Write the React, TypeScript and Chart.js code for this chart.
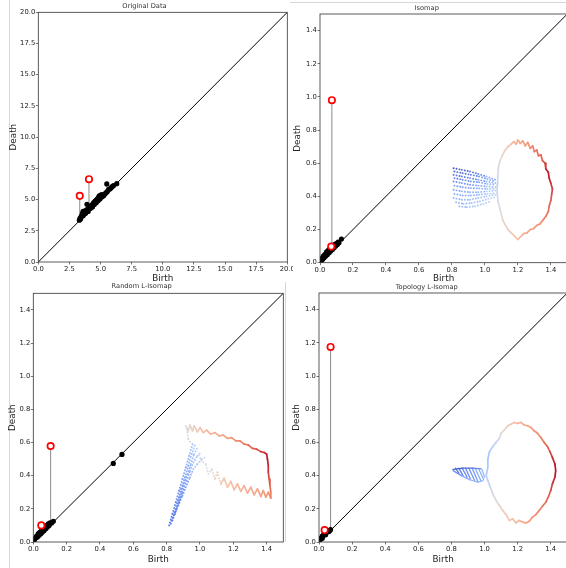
import React, { useEffect, useRef } from "react";
import { Chart, registerables } from "chart.js";
Chart.register(...registerables);

const FONT = '"DejaVu Sans", "Liberation Sans", sans-serif';

// ---------------- texts ----------------
const panelTitles = ["Original Data", "Isomap", "Random L-Isomap", "Topology L-Isomap"];
const xLabel = "Birth";
const yLabel = "Death";

// ---------------- tick values ----------------
const origTicks = [0, 2.5, 5, 7.5, 10, 12.5, 15, 17.5, 20];
const unitTicks = [0, 0.2, 0.4, 0.6, 0.8, 1.0, 1.2, 1.4];
const origMax = 20;
const unitMax = 1.5;

// ---------------- diagonals ----------------
const origDiagonal = [[0, 0], [20, 20]];
const unitDiagonal = [[0, 0], [1.5, 1.5]];

// ---------------- Original Data ----------------
const origBlack = [
  [3.3, 3.35], [3.35, 3.5], [3.4, 3.45], [3.45, 3.65], [3.5, 3.7], [3.55, 3.9], [3.6, 4.05], [3.6, 3.7],
  [3.7, 3.85], [3.75, 4.1], [3.8, 3.9], [3.85, 4.0], [3.9, 4.2], [4.0, 4.15], [4.0, 4.05], [4.1, 4.35],
  [4.2, 4.3], [4.25, 4.5], [4.3, 4.55], [4.35, 4.4], [4.4, 4.65], [4.45, 4.75], [4.5, 4.6], [4.55, 4.85],
  [4.6, 4.9], [4.65, 4.75], [4.7, 5.0], [4.75, 5.05], [4.8, 4.9], [4.85, 5.2], [4.9, 5.3], [4.95, 5.05],
  [5.0, 5.35], [5.05, 5.35], [5.1, 5.2], [5.15, 5.4], [5.2, 5.4], [5.25, 5.3], [5.35, 5.45], [5.45, 5.55],
  [5.55, 5.65], [5.65, 5.8], [5.75, 5.85], [5.85, 5.95], [5.95, 6.05], [6.05, 6.12], [6.3, 6.27],
  [3.91, 4.62], [5.5, 6.25],
];
const origRed = [[3.33, 5.3], [4.07, 6.63]];
const origStems = [[3.33, 5.3], [4.07, 6.63], [5.5, 6.25]];

// ---------------- Isomap ----------------
const isoBlack = [
  [0.005, 0.01], [0.01, 0.025], [0.015, 0.02], [0.02, 0.04], [0.025, 0.03], [0.03, 0.05], [0.035, 0.04],
  [0.04, 0.065], [0.045, 0.05], [0.05, 0.075], [0.055, 0.06], [0.06, 0.085], [0.065, 0.07], [0.07, 0.09],
  [0.075, 0.08], [0.08, 0.1], [0.085, 0.09], [0.09, 0.11], [0.095, 0.1], [0.1, 0.115], [0.105, 0.11],
  [0.11, 0.125], [0.115, 0.12], [0.13, 0.143],
];
const isoRed = [[0.072, 0.98], [0.068, 0.097]];
const isoStems = [[0.072, 0.98]];
const isoLoop = [
  [1.075, 0.47, 0.44], [1.078, 0.52, 0.46], [1.082, 0.57, 0.48], [1.09, 0.61, 0.5], [1.105, 0.645, 0.53],
  [1.12, 0.675, 0.57], [1.14, 0.7, 0.61], [1.16, 0.715, 0.64], [1.175, 0.73, 0.66], [1.19, 0.715, 0.68],
  [1.2, 0.74, 0.69], [1.215, 0.72, 0.71], [1.23, 0.735, 0.72], [1.245, 0.705, 0.74], [1.26, 0.725, 0.75],
  [1.275, 0.69, 0.77], [1.29, 0.705, 0.79], [1.3, 0.67, 0.81], [1.315, 0.68, 0.82], [1.325, 0.645, 0.84],
  [1.34, 0.65, 0.86], [1.35, 0.615, 0.88], [1.365, 0.6, 0.9], [1.37, 0.565, 0.94], [1.385, 0.545, 0.98],
  [1.39, 0.51, 0.96], [1.4, 0.48, 0.94], [1.41, 0.445, 0.92], [1.405, 0.41, 0.9], [1.4, 0.375, 0.88],
  [1.39, 0.34, 0.86], [1.385, 0.31, 0.84], [1.37, 0.28, 0.82], [1.355, 0.26, 0.8], [1.335, 0.235, 0.78],
  [1.315, 0.225, 0.76], [1.295, 0.205, 0.74], [1.275, 0.2, 0.72], [1.255, 0.18, 0.71], [1.235, 0.175, 0.69],
  [1.215, 0.155, 0.67], [1.2, 0.14, 0.65], [1.185, 0.155, 0.63], [1.17, 0.17, 0.61], [1.155, 0.185, 0.59],
  [1.14, 0.2, 0.57], [1.125, 0.225, 0.55], [1.11, 0.255, 0.53], [1.1, 0.29, 0.51], [1.09, 0.33, 0.49],
  [1.08, 0.37, 0.47], [1.075, 0.42, 0.46], [1.075, 0.47, 0.44],
];
const isoFanRows = [
  [[0.81, 0.57, 0.02], [0.86, 0.56, 0.04], [0.91, 0.55, 0.07], [0.96, 0.535, 0.11], [1.01, 0.52, 0.17], [1.065, 0.5, 0.3]],
  [[0.815, 0.55, 0.05], [0.865, 0.54, 0.07], [0.915, 0.53, 0.1], [0.965, 0.52, 0.14], [1.015, 0.505, 0.2], [1.065, 0.49, 0.32]],
  [[0.81, 0.53, 0.08], [0.86, 0.52, 0.1], [0.91, 0.51, 0.13], [0.96, 0.5, 0.16], [1.01, 0.49, 0.22], [1.065, 0.48, 0.34]],
  [[0.815, 0.51, 0.11], [0.865, 0.5, 0.13], [0.915, 0.49, 0.16], [0.965, 0.485, 0.19], [1.015, 0.475, 0.24], [1.065, 0.47, 0.36]],
  [[0.81, 0.49, 0.14], [0.86, 0.48, 0.16], [0.91, 0.47, 0.19], [0.96, 0.465, 0.21], [1.01, 0.46, 0.26], [1.065, 0.455, 0.37]],
  [[0.815, 0.465, 0.17], [0.865, 0.455, 0.19], [0.915, 0.45, 0.21], [0.965, 0.448, 0.24], [1.015, 0.445, 0.28], [1.065, 0.445, 0.38]],
  [[0.81, 0.44, 0.2], [0.86, 0.43, 0.22], [0.91, 0.425, 0.24], [0.96, 0.425, 0.26], [1.01, 0.43, 0.3], [1.065, 0.435, 0.4]],
  [[0.815, 0.415, 0.22], [0.865, 0.405, 0.24], [0.915, 0.405, 0.26], [0.965, 0.41, 0.28], [1.015, 0.415, 0.32], [1.065, 0.42, 0.41]],
  [[0.81, 0.39, 0.24], [0.86, 0.38, 0.26], [0.91, 0.38, 0.28], [0.96, 0.39, 0.3], [1.01, 0.4, 0.34], [1.065, 0.41, 0.42]],
  [[0.825, 0.365, 0.26], [0.87, 0.355, 0.28], [0.92, 0.36, 0.3], [0.97, 0.37, 0.32], [1.02, 0.385, 0.36], [1.065, 0.395, 0.43]],
  [[0.845, 0.34, 0.28], [0.89, 0.335, 0.3], [0.94, 0.34, 0.32], [0.99, 0.355, 0.35], [1.04, 0.37, 0.4]],
];

// ---------------- Random L-Isomap ----------------
const randBlack = [
  [0.005, 0.01], [0.01, 0.02], [0.015, 0.025], [0.02, 0.035], [0.025, 0.03], [0.03, 0.05], [0.035, 0.04],
  [0.04, 0.06], [0.045, 0.05], [0.05, 0.07], [0.055, 0.06], [0.06, 0.08], [0.065, 0.07], [0.07, 0.09],
  [0.075, 0.08], [0.08, 0.1], [0.085, 0.09], [0.09, 0.11], [0.095, 0.1], [0.1, 0.115], [0.11, 0.115],
  [0.12, 0.125], [0.48, 0.474], [0.532, 0.528],
];
const randRed = [[0.104, 0.579], [0.048, 0.1]];
const randStems = [[0.104, 0.579]];
const randBandRows = [
  [[0.815, 0.1, 0.08], [0.835, 0.17, 0.1], [0.855, 0.24, 0.13], [0.875, 0.31, 0.16], [0.895, 0.38, 0.19], [0.915, 0.45, 0.23], [0.935, 0.52, 0.27], [0.955, 0.59, 0.32]],
  [[0.825, 0.11, 0.1], [0.848, 0.18, 0.12], [0.868, 0.25, 0.15], [0.888, 0.32, 0.18], [0.91, 0.39, 0.21], [0.93, 0.46, 0.25], [0.95, 0.53, 0.29], [0.97, 0.585, 0.34]],
  [[0.835, 0.13, 0.11], [0.86, 0.2, 0.13], [0.88, 0.27, 0.16], [0.9, 0.34, 0.19], [0.925, 0.41, 0.23], [0.945, 0.47, 0.27], [0.965, 0.53, 0.31], [0.985, 0.57, 0.36]],
  [[0.85, 0.17, 0.13], [0.875, 0.24, 0.15], [0.895, 0.3, 0.18], [0.92, 0.37, 0.21], [0.94, 0.43, 0.25], [0.96, 0.48, 0.29], [0.985, 0.52, 0.34], [1.005, 0.54, 0.38]],
  [[0.87, 0.22, 0.15], [0.895, 0.28, 0.18], [0.915, 0.33, 0.2], [0.94, 0.39, 0.24], [0.96, 0.44, 0.28], [0.985, 0.47, 0.32], [1.01, 0.5, 0.38], [1.03, 0.51, 0.42]],
  [[0.915, 0.7, 0.5], [0.925, 0.66, 0.49], [0.93, 0.62, 0.47], [0.95, 0.59, 0.44]],
  [[1.125, 0.35, 0.6], [1.105, 0.42, 0.57], [1.09, 0.38, 0.55], [1.07, 0.44, 0.53], [1.05, 0.41, 0.51], [1.035, 0.47, 0.49], [1.01, 0.49, 0.47], [0.99, 0.53, 0.45]],
];
const randTop = [
  [0.915, 0.7, 0.5], [0.93, 0.67, 0.52], [0.94, 0.705, 0.54], [0.955, 0.67, 0.56], [0.965, 0.7, 0.58],
  [0.985, 0.665, 0.6], [1.0, 0.69, 0.62], [1.02, 0.66, 0.64], [1.04, 0.675, 0.66], [1.065, 0.65, 0.68],
  [1.09, 0.66, 0.69], [1.115, 0.64, 0.7], [1.14, 0.645, 0.72], [1.165, 0.625, 0.73], [1.19, 0.63, 0.75],
  [1.215, 0.61, 0.77], [1.24, 0.61, 0.79], [1.265, 0.59, 0.81], [1.29, 0.585, 0.83], [1.315, 0.565, 0.86],
  [1.34, 0.56, 0.88], [1.365, 0.545, 0.91], [1.385, 0.54, 0.94], [1.4, 0.53, 0.97], [1.405, 0.5, 0.98],
  [1.41, 0.46, 0.96], [1.41, 0.42, 0.93], [1.415, 0.38, 0.9], [1.42, 0.34, 0.86], [1.425, 0.3, 0.82],
  [1.425, 0.265, 0.78],
];
const randBottom = [
  [1.425, 0.265, 0.78], [1.41, 0.3, 0.76], [1.395, 0.27, 0.75], [1.38, 0.31, 0.74], [1.365, 0.275, 0.73],
  [1.345, 0.32, 0.72], [1.325, 0.285, 0.71], [1.305, 0.33, 0.7], [1.285, 0.295, 0.69], [1.265, 0.34, 0.68],
  [1.245, 0.305, 0.67], [1.225, 0.35, 0.66], [1.205, 0.315, 0.65], [1.185, 0.365, 0.64], [1.165, 0.33, 0.63],
  [1.145, 0.385, 0.62], [1.125, 0.35, 0.6],
];

// ---------------- Topology L-Isomap ----------------
const topoBlack = [
  [0.005, 0.01], [0.01, 0.02], [0.015, 0.025], [0.02, 0.035], [0.025, 0.04], [0.03, 0.045], [0.035, 0.05],
  [0.04, 0.055], [0.045, 0.058], [0.05, 0.062], [0.055, 0.065], [0.06, 0.068], [0.065, 0.07], [0.07, 0.075],
  [0.02, 0.022], [0.04, 0.043], [0.06, 0.063],
];
const topoRed = [[0.07, 1.175], [0.034, 0.072]];
const topoStems = [[0.07, 1.175]];
const topoFanLines = [
  [[0.81, 0.437, 0.03], [0.87, 0.445, 0.06], [0.93, 0.445, 0.1], [0.98, 0.44, 0.18]],
  [[0.81, 0.43, 0.13], [0.86, 0.4, 0.2], [0.91, 0.375, 0.25], [0.96, 0.36, 0.28], [0.99, 0.37, 0.31]],
  [[0.825, 0.445, 0.05], [0.845, 0.415, 0.14]],
  [[0.845, 0.445, 0.06], [0.87, 0.4, 0.18]],
  [[0.865, 0.445, 0.08], [0.895, 0.39, 0.2]],
  [[0.885, 0.445, 0.1], [0.915, 0.38, 0.22]],
  [[0.905, 0.445, 0.12], [0.94, 0.37, 0.24]],
  [[0.925, 0.445, 0.14], [0.96, 0.365, 0.26]],
  [[0.945, 0.44, 0.18], [0.98, 0.365, 0.28]],
  [[0.965, 0.44, 0.21], [0.995, 0.375, 0.3]],
  [[0.985, 0.435, 0.25], [1.0, 0.39, 0.32]],
];
const topoLoop = [
  [1.01, 0.4, 0.36], [1.02, 0.45, 0.34], [1.02, 0.5, 0.33], [1.03, 0.545, 0.35], [1.05, 0.575, 0.38],
  [1.07, 0.6, 0.42], [1.09, 0.625, 0.46], [1.1, 0.655, 0.5], [1.12, 0.675, 0.54], [1.14, 0.7, 0.58],
  [1.16, 0.71, 0.61], [1.18, 0.72, 0.63], [1.2, 0.715, 0.65], [1.22, 0.72, 0.67], [1.24, 0.705, 0.69],
  [1.26, 0.7, 0.71], [1.28, 0.69, 0.73], [1.3, 0.67, 0.75], [1.32, 0.655, 0.77], [1.34, 0.63, 0.8],
  [1.36, 0.6, 0.83], [1.38, 0.575, 0.86], [1.395, 0.545, 0.89], [1.41, 0.51, 0.93], [1.425, 0.47, 0.97],
  [1.43, 0.43, 0.99], [1.425, 0.39, 0.97], [1.41, 0.35, 0.93], [1.4, 0.31, 0.9], [1.385, 0.27, 0.87],
  [1.37, 0.24, 0.85], [1.35, 0.215, 0.82], [1.33, 0.19, 0.8], [1.31, 0.165, 0.78], [1.29, 0.15, 0.76],
  [1.27, 0.125, 0.74], [1.25, 0.115, 0.72], [1.23, 0.12, 0.7], [1.21, 0.13, 0.68], [1.19, 0.115, 0.66],
  [1.17, 0.14, 0.64], [1.15, 0.13, 0.62], [1.13, 0.165, 0.6], [1.11, 0.19, 0.58], [1.09, 0.22, 0.55],
  [1.07, 0.25, 0.52], [1.05, 0.29, 0.48], [1.035, 0.33, 0.44], [1.02, 0.37, 0.4], [1.01, 0.4, 0.36],
];

// ---------------- colour map (coolwarm) ----------------
const CW = [
  [0, 59, 76, 192], [0.125, 98, 130, 234], [0.25, 141, 176, 254], [0.375, 184, 208, 249],
  [0.5, 221, 220, 220], [0.625, 245, 196, 173], [0.75, 244, 154, 123], [0.875, 222, 96, 77], [1, 180, 4, 38],
];
function coolwarm(t: number, a = 1) {
  const v = Math.max(0, Math.min(1, t));
  for (let i = 0; i < CW.length - 1; i++) {
    const p = CW[i], q = CW[i + 1];
    if (v <= q[0]) {
      const f = (v - p[0]) / (q[0] - p[0]);
      const c = [1, 2, 3].map((k) => Math.round(p[k] + (q[k] - p[k]) * f));
      return `rgba(${c[0]},${c[1]},${c[2]},${a})`;
    }
  }
  return `rgba(180,4,38,${a})`;
}

// ---------------- dataset builders ----------------
const xy = (arr: number[][]) => arr.map((p) => ({ x: p[0], y: p[1] }));

function strand(arr: number[][], style: "dot" | "solid" | "thin") {
  const alpha = style === "dot" ? 0.95 : 1;
  return {
    data: xy(arr),
    showLine: true,
    pointRadius: 0,
    borderWidth: style === "dot" ? 1.9 : style === "thin" ? 1.3 : 1.7,
    borderDash: style === "dot" ? [0.1, 2.9] : [],
    borderCapStyle: "round",
    borderJoinStyle: "round",
    borderColor: coolwarm(arr[0][2], alpha),
    segment: {
      borderColor: (ctx: any) => coolwarm((arr[ctx.p0DataIndex][2] + arr[ctx.p1DataIndex][2]) / 2, alpha),
    },
    order: 5,
  };
}
function diagonal(arr: number[][]) {
  return { data: xy(arr), showLine: true, pointRadius: 0, borderColor: "#000", borderWidth: 1, order: 3 };
}
function stems(arr: number[][]) {
  return arr.map((s) => ({
    data: [{ x: s[0], y: s[0] }, { x: s[0], y: s[1] }],
    showLine: true, pointRadius: 0, borderColor: "#8a8a8a", borderWidth: 1, order: 2,
  }));
}
function black(arr: number[][]) {
  return { data: xy(arr), pointRadius: 2.6, pointBackgroundColor: "#000", pointBorderWidth: 0, order: 1 };
}
function red(arr: number[][]) {
  return { data: xy(arr), pointRadius: 3.2, pointBackgroundColor: "#fff", pointBorderColor: "#f00", pointBorderWidth: 1.7, order: 0 };
}

// ---------------- geometry (canvas placement and plot boxes) ----------------
const GEOM = [
  { left: 0, top: 0, w: 293, h: 284, l: 38.3, t: 12.3, r: 289, b: 262, titleY: 6.7, xTitleY: 279, yTitleX: 13.3 },
  { left: 283, top: 0, w: 290, h: 284, l: 37, t: 14, r: 287.5, b: 262.7, titleY: 8, xTitleY: 279, yTitleX: 15 },
  { left: 0, top: 280, w: 293, h: 288, l: 33.3, t: 13.3, r: 283.3, b: 262, titleY: 6.7, xTitleY: 279.3, yTitleX: 12.7 },
  { left: 283, top: 280, w: 290, h: 288, l: 36, t: 13, r: 287.4, b: 262, titleY: 7, xTitleY: 279.3, yTitleX: 13.3 },
];

const boxPlugin = {
  id: "box",
  afterDatasetsDraw(chart: any) {
    const { ctx, chartArea: a } = chart;
    ctx.save();
    ctx.strokeStyle = "#333";
    ctx.lineWidth = 0.8;
    ctx.strokeRect(a.left, a.top, a.right - a.left, a.bottom - a.top);
    ctx.restore();
  },
};

function buildConfig(g: any, title: string, ticks: number[], max: number, datasets: any[]) {
  const tfs = 6.7;
  const lfs = 8.8;
  const lh = lfs * 1.2;
  const tickCfg = {
    font: { family: FONT, size: 6.8 },
    color: "#222",
    padding: 0.6,
    maxRotation: 0,
    autoSkip: false,
    callback: (v: any) => Number(v).toFixed(1),
  };
  const gridCfg = { drawOnChartArea: false, drawTicks: true, tickLength: 2.5, color: "#555", lineWidth: 0.8 };
  return {
    type: "scatter",
    data: { datasets },
    options: {
      animation: false,
      responsive: false,
      devicePixelRatio: 1,
      events: [],
      layout: { padding: { left: 0, top: 0, right: g.w - g.r, bottom: 0 } },
      plugins: {
        legend: { display: false },
        tooltip: { enabled: false },
        title: {
          display: true,
          text: title,
          color: "#333",
          font: { family: FONT, size: tfs, lineHeight: 1, weight: "normal" },
          padding: { top: g.titleY - tfs / 2, bottom: g.t - (g.titleY - tfs / 2) - tfs },
        },
      },
      scales: {
        x: {
          type: "linear",
          min: 0,
          max,
          afterBuildTicks: (s: any) => { s.ticks = ticks.map((v) => ({ value: v })); },
          afterFit: (s: any) => { s.height = g.h - g.b; s.paddingLeft = 0; s.paddingRight = 0; },
          ticks: tickCfg,
          grid: gridCfg,
          border: { display: false },
          title: {
            display: true, text: xLabel, color: "#222",
            font: { family: FONT, size: lfs },
            padding: { top: 0, bottom: Math.max(0, g.h - g.xTitleY - lh / 2) },
          },
        },
        y: {
          type: "linear",
          min: 0,
          max,
          afterBuildTicks: (s: any) => { s.ticks = ticks.map((v) => ({ value: v })); },
          afterFit: (s: any) => { s.width = g.l; s.paddingTop = 0; s.paddingBottom = 0; },
          ticks: tickCfg,
          grid: gridCfg,
          border: { display: false },
          title: {
            display: true, text: yLabel, color: "#222",
            font: { family: FONT, size: lfs },
            padding: { top: Math.max(0, g.yTitleX - lh / 2), bottom: 0 },
          },
        },
      },
    },
    plugins: [boxPlugin],
  };
}

function panelDatasets(i: number) {
  if (i === 0) {
    return [diagonal(origDiagonal), ...stems(origStems), black(origBlack), red(origRed)];
  }
  if (i === 1) {
    return [
      diagonal(unitDiagonal), ...stems(isoStems), black(isoBlack), red(isoRed),
      ...isoFanRows.map((r) => strand(r, "dot")),
      strand(isoLoop, "solid"),
    ];
  }
  if (i === 2) {
    return [
      diagonal(unitDiagonal), ...stems(randStems), black(randBlack), red(randRed),
      ...randBandRows.map((r) => strand(r, "dot")),
      strand(randTop, "solid"), strand(randBottom, "solid"),
    ];
  }
  return [
    diagonal(unitDiagonal), ...stems(topoStems), black(topoBlack), red(topoRed),
    ...topoFanLines.map((r) => strand(r, "thin")),
    strand(topoLoop, "solid"),
  ];
}

function Panel({ idx }: { idx: number }) {
  const ref = useRef<HTMLCanvasElement>(null);
  const g = GEOM[idx];
  useEffect(() => {
    const ticks = idx === 0 ? origTicks : unitTicks;
    const max = idx === 0 ? origMax : unitMax;
    const chart = new Chart(ref.current as HTMLCanvasElement, buildConfig(g, panelTitles[idx], ticks, max, panelDatasets(idx)) as any);
    return () => chart.destroy();
  }, []);
  return (
    <canvas
      ref={ref}
      width={g.w}
      height={g.h}
      style={{ position: "absolute", left: g.left, top: g.top, width: g.w, height: g.h }}
    />
  );
}

export default function App() {
  return (
    <div style={{ position: "fixed", left: 0, top: 0, width: 566, height: 568, overflow: "hidden", background: "#fff" }}>
      <div style={{ position: "absolute", left: 9, top: 0, width: 1, height: 568, background: "#d6d6d6" }} />
      <div style={{ position: "absolute", left: 290, top: 2, width: 276, height: 1, background: "#d6d6d6" }} />
      <div style={{ position: "absolute", left: 285, top: 282, width: 1, height: 260, background: "#d6d6d6" }} />
      {[0, 1, 2, 3].map((i) => (
        <Panel key={i} idx={i} />
      ))}
    </div>
  );
}
